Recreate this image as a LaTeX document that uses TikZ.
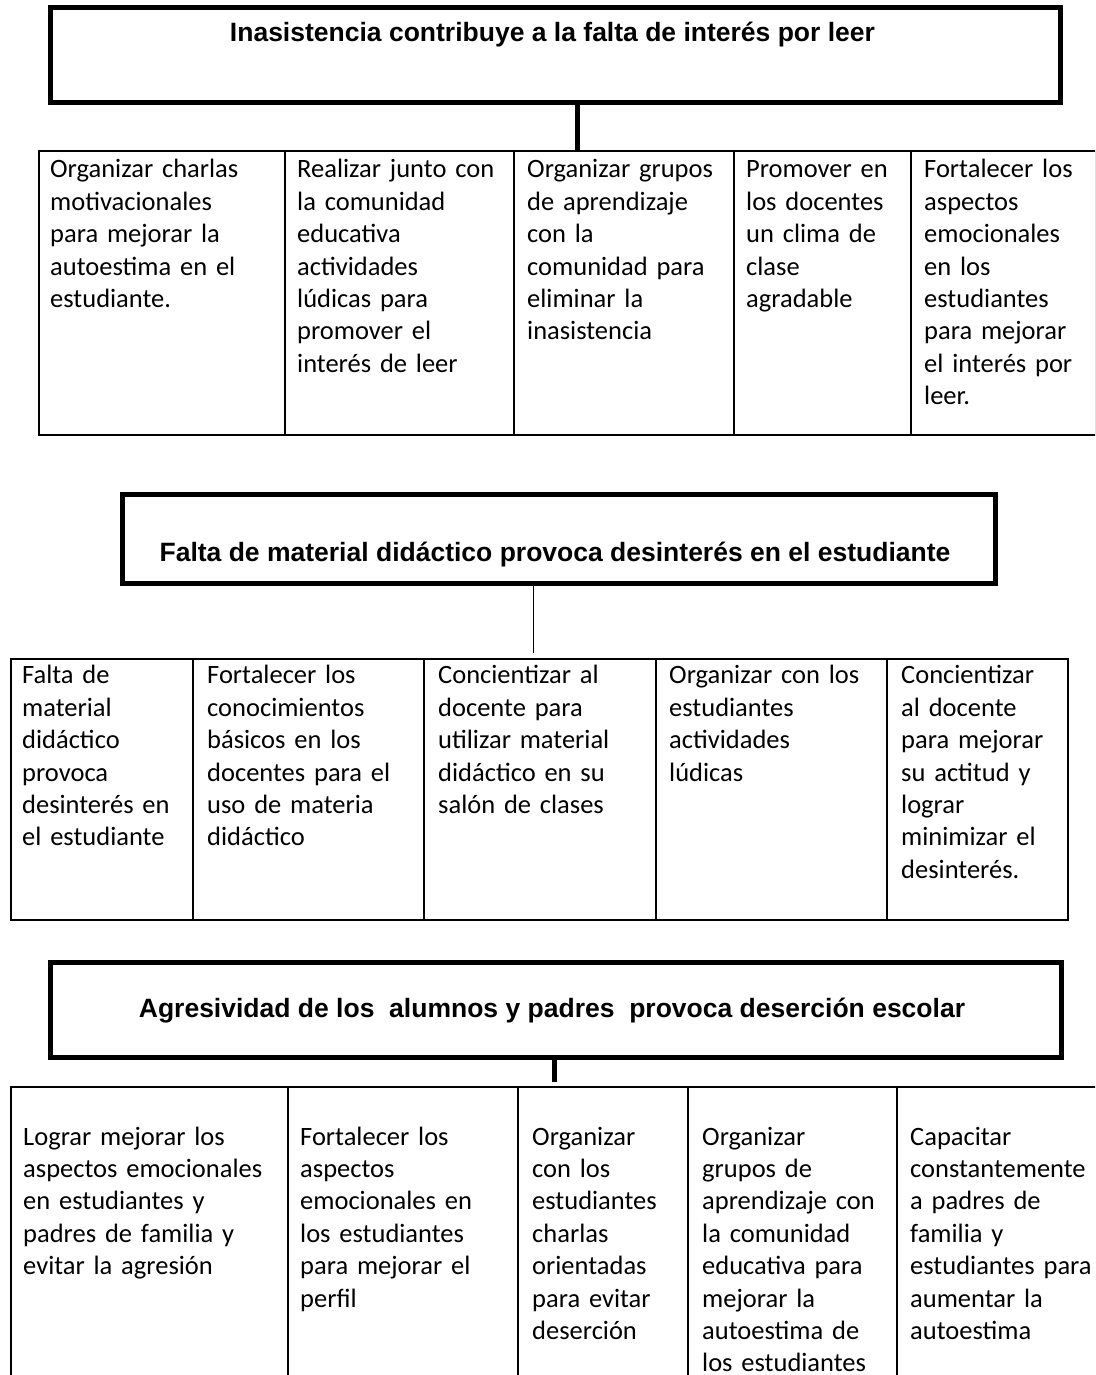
\documentclass[tikz,border=0pt]{standalone}
\usepackage{fontspec}
\setmainfont{Carlito}
\newfontfamily\titlefont{Liberation Sans}
\usetikzlibrary{calc}
\begin{document}
\begin{tikzpicture}[x=1pt,y=-1pt,
  titlebox/.style={draw, line width=5pt, inner sep=0pt, anchor=north west},
  cell/.style={draw, line width=2pt, inner sep=0pt, anchor=north west},
  celltext/.style={anchor=north west, inner sep=0pt, align=left, text width=300pt,
    font=\fontsize{26.5}{32.4}\selectfont},
  titletext/.style={anchor=base, inner sep=0pt, font=\titlefont\bfseries\fontsize{26.5}{32}\selectfont},
  thickconn/.style={line width=5pt},
  thinconn/.style={line width=1.5pt}]
\useasboundingbox (0,0) rectangle (1095,1375);
\clip (0,0) rectangle (1095,1375);
\fill[white] (0,0) rectangle (1095,1375);

% ---------- Block 1 ----------
\node[titlebox, minimum width=1010.5pt, minimum height=95pt] (box1) at (47.5,5.5) {};
\node[titletext] (title1) at (552.5,42) {Inasistencia contribuye a la falta de interés por leer};

\node[cell, minimum width=246pt, minimum height=284pt] (t1a) at (38,150) {};
\node[cell, minimum width=229pt, minimum height=284pt] (t1b) at (284,150) {};
\node[cell, minimum width=220pt, minimum height=284pt] (t1c) at (513,150) {};
\node[cell, minimum width=177pt, minimum height=284pt] (t1d) at (733,150) {};
\node[cell, minimum width=185pt, minimum height=284pt] (t1e) at (910,150) {};

\node[celltext] (t1atx) at (50,155) {\strut Organizar charlas\\motivacionales\\para mejorar la\\autoestima en el\\estudiante.};
\node[celltext] (t1btx) at (297,155) {\strut Realizar junto con\\la comunidad\\educativa\\actividades\\lúdicas para\\promover el\\interés de leer};
\node[celltext] (t1ctx) at (527,155) {\strut Organizar grupos\\de aprendizaje\\con la\\comunidad para\\eliminar la\\inasistencia};
\node[celltext] (t1dtx) at (746,155) {\strut Promover en\\los docentes\\un clima de\\clase\\agradable};
\node[celltext] (t1etx) at (924,155) {\strut Fortalecer los\\aspectos\\emocionales\\en los\\estudiantes\\para mejorar\\el interés por\\leer.};

\coordinate (c1s) at ($(box1.south)+(21.75,0)$);
\draw[thickconn] (c1s) -- (c1s |- t1c.north);

% ---------- Block 2 ----------
\node[titlebox, minimum width=873pt, minimum height=89pt] (box2) at (120,492) {};
\node[titletext] (title2) at (555,561) {Falta de material didáctico provoca desinterés en el estudiante};

\node[cell, minimum width=182.5pt, minimum height=261pt] (t2a) at (9.5,658) {};
\node[cell, minimum width=231pt, minimum height=261pt] (t2b) at (192,658) {};
\node[cell, minimum width=232pt, minimum height=261pt] (t2c) at (423,658) {};
\node[cell, minimum width=231pt, minimum height=261pt] (t2d) at (655,658) {};
\node[cell, minimum width=181pt, minimum height=261pt] (t2e) at (886,658) {};

\node[celltext] (t2atx) at (22,661) {\strut Falta de\\material\\didáctico\\provoca\\desinterés en\\el estudiante};
\node[celltext] (t2btx) at (207,661) {\strut Fortalecer los\\conocimientos\\básicos en los\\docentes para el\\uso de materia\\didáctico};
\node[celltext] (t2ctx) at (438,661) {\strut Concientizar al\\docente para\\utilizar material\\didáctico en su\\salón de clases};
\node[celltext] (t2dtx) at (669,661) {\strut Organizar con los\\estudiantes\\actividades\\lúdicas};
\node[celltext] (t2etx) at (901,661) {\strut Concientizar\\al docente\\para mejorar\\su actitud y\\lograr\\minimizar el\\desinterés.};

\coordinate (c2s) at ($(box2.south)+(-25.5,0)$);
\draw[thinconn, shorten >=5pt] (c2s) -- (c2s |- t2c.north);

% ---------- Block 3 ----------
\node[titlebox, minimum width=1011pt, minimum height=95pt] (box3) at (48,959.5) {};
\node[titletext] (title3) at (552,1017) {Agresividad de los\ \ alumnos y padres\ \ provoca deserción escolar};

\node[cell, minimum width=277.5pt, minimum height=314pt] (t3a) at (9.5,1086) {};
\node[cell, minimum width=230pt, minimum height=314pt] (t3b) at (287,1086) {};
\node[cell, minimum width=170pt, minimum height=314pt] (t3c) at (517,1086) {};
\node[cell, minimum width=209pt, minimum height=314pt] (t3d) at (687,1086) {};
\node[cell, minimum width=214pt, minimum height=314pt] (t3e) at (896,1086) {};

\node[celltext] (t3atx) at (23,1122.3) {\strut Lograr mejorar los\\aspectos emocionales\\en estudiantes y\\padres de familia y\\evitar la agresión};
\node[celltext] (t3btx) at (300,1122.3) {\strut Fortalecer los\\aspectos\\emocionales en\\los estudiantes\\para mejorar el\\perfil};
\node[celltext] (t3ctx) at (532,1122.3) {\strut Organizar\\con los\\estudiantes\\charlas\\orientadas\\para evitar\\deserción};
\node[celltext] (t3dtx) at (702,1122.3) {\strut Organizar\\grupos de\\aprendizaje con\\la comunidad\\educativa para\\mejorar la\\autoestima de\\los estudiantes};
\node[celltext] (t3etx) at (910,1122.3) {\strut Capacitar\\constantemente\\a padres de\\familia y\\estudiantes para\\aumentar la\\autoestima};

\coordinate (c3s) at ($(box3.south)+(-1.5,0)$);
\draw[thickconn, shorten >=4pt] (c3s) -- (c3s |- t3c.north);
\end{tikzpicture}
\end{document}
